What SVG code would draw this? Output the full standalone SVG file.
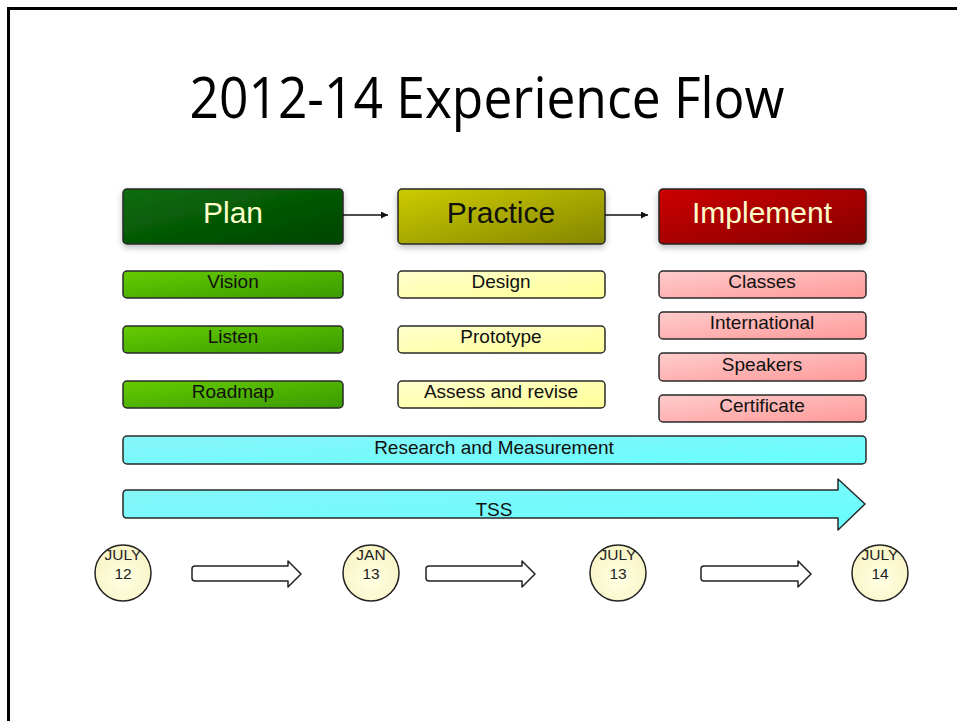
<svg xmlns="http://www.w3.org/2000/svg" width="957" height="721" viewBox="0 0 957 721">
<defs>
<linearGradient id="gPlan" x1="0" y1="0" x2="1" y2="1"><stop offset="0" stop-color="#0b6d0b"/><stop offset="1" stop-color="#004400"/></linearGradient>
<linearGradient id="gPrac" x1="0" y1="0" x2="1" y2="1"><stop offset="0" stop-color="#cccc00"/><stop offset="1" stop-color="#858500"/></linearGradient>
<linearGradient id="gImpl" x1="0" y1="0" x2="1" y2="1"><stop offset="0" stop-color="#cc0000"/><stop offset="1" stop-color="#850000"/></linearGradient>
<linearGradient id="gGreen" x1="0" y1="0" x2="1" y2="1"><stop offset="0" stop-color="#66cc00"/><stop offset="1" stop-color="#3a9a00"/></linearGradient>
<linearGradient id="gYel" x1="0" y1="0" x2="1" y2="1"><stop offset="0" stop-color="#ffffcc"/><stop offset="1" stop-color="#ffff99"/></linearGradient>
<linearGradient id="gPink" x1="0" y1="0" x2="1" y2="1"><stop offset="0" stop-color="#ffcccc"/><stop offset="1" stop-color="#ff9999"/></linearGradient>
<linearGradient id="gCyan" x1="0" y1="0" x2="1" y2="1"><stop offset="0" stop-color="#88f4f8"/><stop offset="1" stop-color="#66ffff"/></linearGradient>
<radialGradient id="gCirc" cx="0.5" cy="0.6" r="0.6"><stop offset="0" stop-color="#ffffe4"/><stop offset="1" stop-color="#f8f4c4"/></radialGradient>
<marker id="ah" viewBox="0 0 10 10" refX="10" refY="5" markerWidth="10" markerHeight="7" orient="auto" markerUnits="userSpaceOnUse"><path d="M0,0 L10,5 L0,10 z" fill="#111"/></marker>
<filter id="sh" x="-10%" y="-20%" width="120%" height="150%"><feDropShadow dx="0" dy="3" stdDeviation="3" flood-color="#000" flood-opacity="0.25"/></filter>
</defs>
<style>
.box{stroke:#2a2a2a;stroke-width:1.5}
.hd{font-family:"Liberation Sans",Arial,sans-serif;font-size:30px;text-anchor:middle}
.sm{font-family:"Liberation Sans",Arial,sans-serif;font-size:19px;fill:#111;text-anchor:middle}
.dt{font-family:"Liberation Sans",Arial,sans-serif;font-size:15.5px;fill:#222;text-anchor:middle}
.conn{stroke:#111;stroke-width:1.5;fill:none}
.hollow{fill:#fff;stroke:#222;stroke-width:1.5;stroke-linejoin:round}
.circ{fill:url(#gCirc);stroke:#222;stroke-width:1.5}
</style>
<rect width="957" height="721" fill="#fff"/>
<path d="M8.5,721 L8.5,8.5 L957,8.5" fill="none" stroke="#000" stroke-width="3"/>
<text x="487" y="118" font-family="'Open Sans','Noto Sans',sans-serif" font-size="56" fill="#000" text-anchor="middle" textLength="595" lengthAdjust="spacingAndGlyphs">2012-14 Experience Flow</text>

<g id="plan"><rect class="box" x="123" y="189" width="220" height="55" rx="4" fill="url(#gPlan)" filter="url(#sh)"/><text class="hd" x="233" y="223" fill="#ffffcc">Plan</text></g>
<g id="practice"><rect class="box" x="398" y="189" width="207" height="55" rx="4" fill="url(#gPrac)" filter="url(#sh)"/><text class="hd" x="501" y="223" fill="#111">Practice</text></g>
<g id="implement"><rect class="box" x="659" y="189" width="207" height="55" rx="4" fill="url(#gImpl)" filter="url(#sh)"/><text class="hd" x="762" y="223" fill="#ffffcc">Implement</text></g>

<g id="vision"><rect class="box" x="123" y="271" width="220" height="27" rx="4" fill="url(#gGreen)"/><text class="sm" x="233" y="288">Vision</text></g>
<g id="listen"><rect class="box" x="123" y="326" width="220" height="27" rx="4" fill="url(#gGreen)"/><text class="sm" x="233" y="343">Listen</text></g>
<g id="roadmap"><rect class="box" x="123" y="381" width="220" height="27" rx="4" fill="url(#gGreen)"/><text class="sm" x="233" y="398">Roadmap</text></g>

<g id="design"><rect class="box" x="398" y="271" width="207" height="27" rx="4" fill="url(#gYel)"/><text class="sm" x="501" y="288">Design</text></g>
<g id="prototype"><rect class="box" x="398" y="326" width="207" height="27" rx="4" fill="url(#gYel)"/><text class="sm" x="501" y="343">Prototype</text></g>
<g id="assess"><rect class="box" x="398" y="381" width="207" height="27" rx="4" fill="url(#gYel)"/><text class="sm" x="501" y="398">Assess and revise</text></g>

<g id="classes"><rect class="box" x="659" y="271" width="207" height="27" rx="4" fill="url(#gPink)"/><text class="sm" x="762" y="288">Classes</text></g>
<g id="international"><rect class="box" x="659" y="312" width="207" height="27" rx="4" fill="url(#gPink)"/><text class="sm" x="762" y="329">International</text></g>
<g id="speakers"><rect class="box" x="659" y="353" width="207" height="28" rx="4" fill="url(#gPink)"/><text class="sm" x="762" y="371">Speakers</text></g>
<g id="certificate"><rect class="box" x="659" y="395" width="207" height="27" rx="4" fill="url(#gPink)"/><text class="sm" x="762" y="412">Certificate</text></g>

<g id="research"><rect class="box" x="123" y="436" width="743" height="28" rx="4" fill="url(#gCyan)"/><text class="sm" x="494" y="454">Research and Measurement</text></g>
<g id="tss"><path class="box" d="M127,490 L838,490 L838,479 L865,504 L838,530 L838,518 L127,518 Q123,518 123,514 L123,494 Q123,490 127,490 z" fill="url(#gCyan)" stroke-linejoin="round"/><text class="sm" x="494" y="516">TSS</text></g>

<g id="july12"><circle class="circ" cx="123" cy="573" r="28"/><text class="dt" x="123" y="560">JULY</text><text class="dt" x="123" y="579">12</text></g>
<g id="jan13"><circle class="circ" cx="371" cy="573" r="28"/><text class="dt" x="371" y="560">JAN</text><text class="dt" x="371" y="579">13</text></g>
<g id="july13"><circle class="circ" cx="618" cy="573" r="28"/><text class="dt" x="618" y="560">JULY</text><text class="dt" x="618" y="579">13</text></g>
<g id="july14"><circle class="circ" cx="880" cy="573" r="28"/><text class="dt" x="880" y="560">JULY</text><text class="dt" x="880" y="579">14</text></g>

<g id="connectors">
<line class="conn" x1="343" y1="215" x2="388" y2="215" marker-end="url(#ah)"/>
<line class="conn" x1="605" y1="215" x2="648" y2="215" marker-end="url(#ah)"/>
<path class="hollow" d="M195,566 L288,566 L288,561 L301,574 L288,587 L288,581 L195,581 Q192,581 192,578 L192,569 Q192,566 195,566 z"/>
<path class="hollow" d="M429,566 L522,566 L522,561 L535,574 L522,587 L522,581 L429,581 Q426,581 426,578 L426,569 Q426,566 429,566 z"/>
<path class="hollow" d="M704,566 L798,566 L798,561 L811,574 L798,587 L798,581 L704,581 Q701,581 701,578 L701,569 Q701,566 704,566 z"/>
</g>
</svg>
